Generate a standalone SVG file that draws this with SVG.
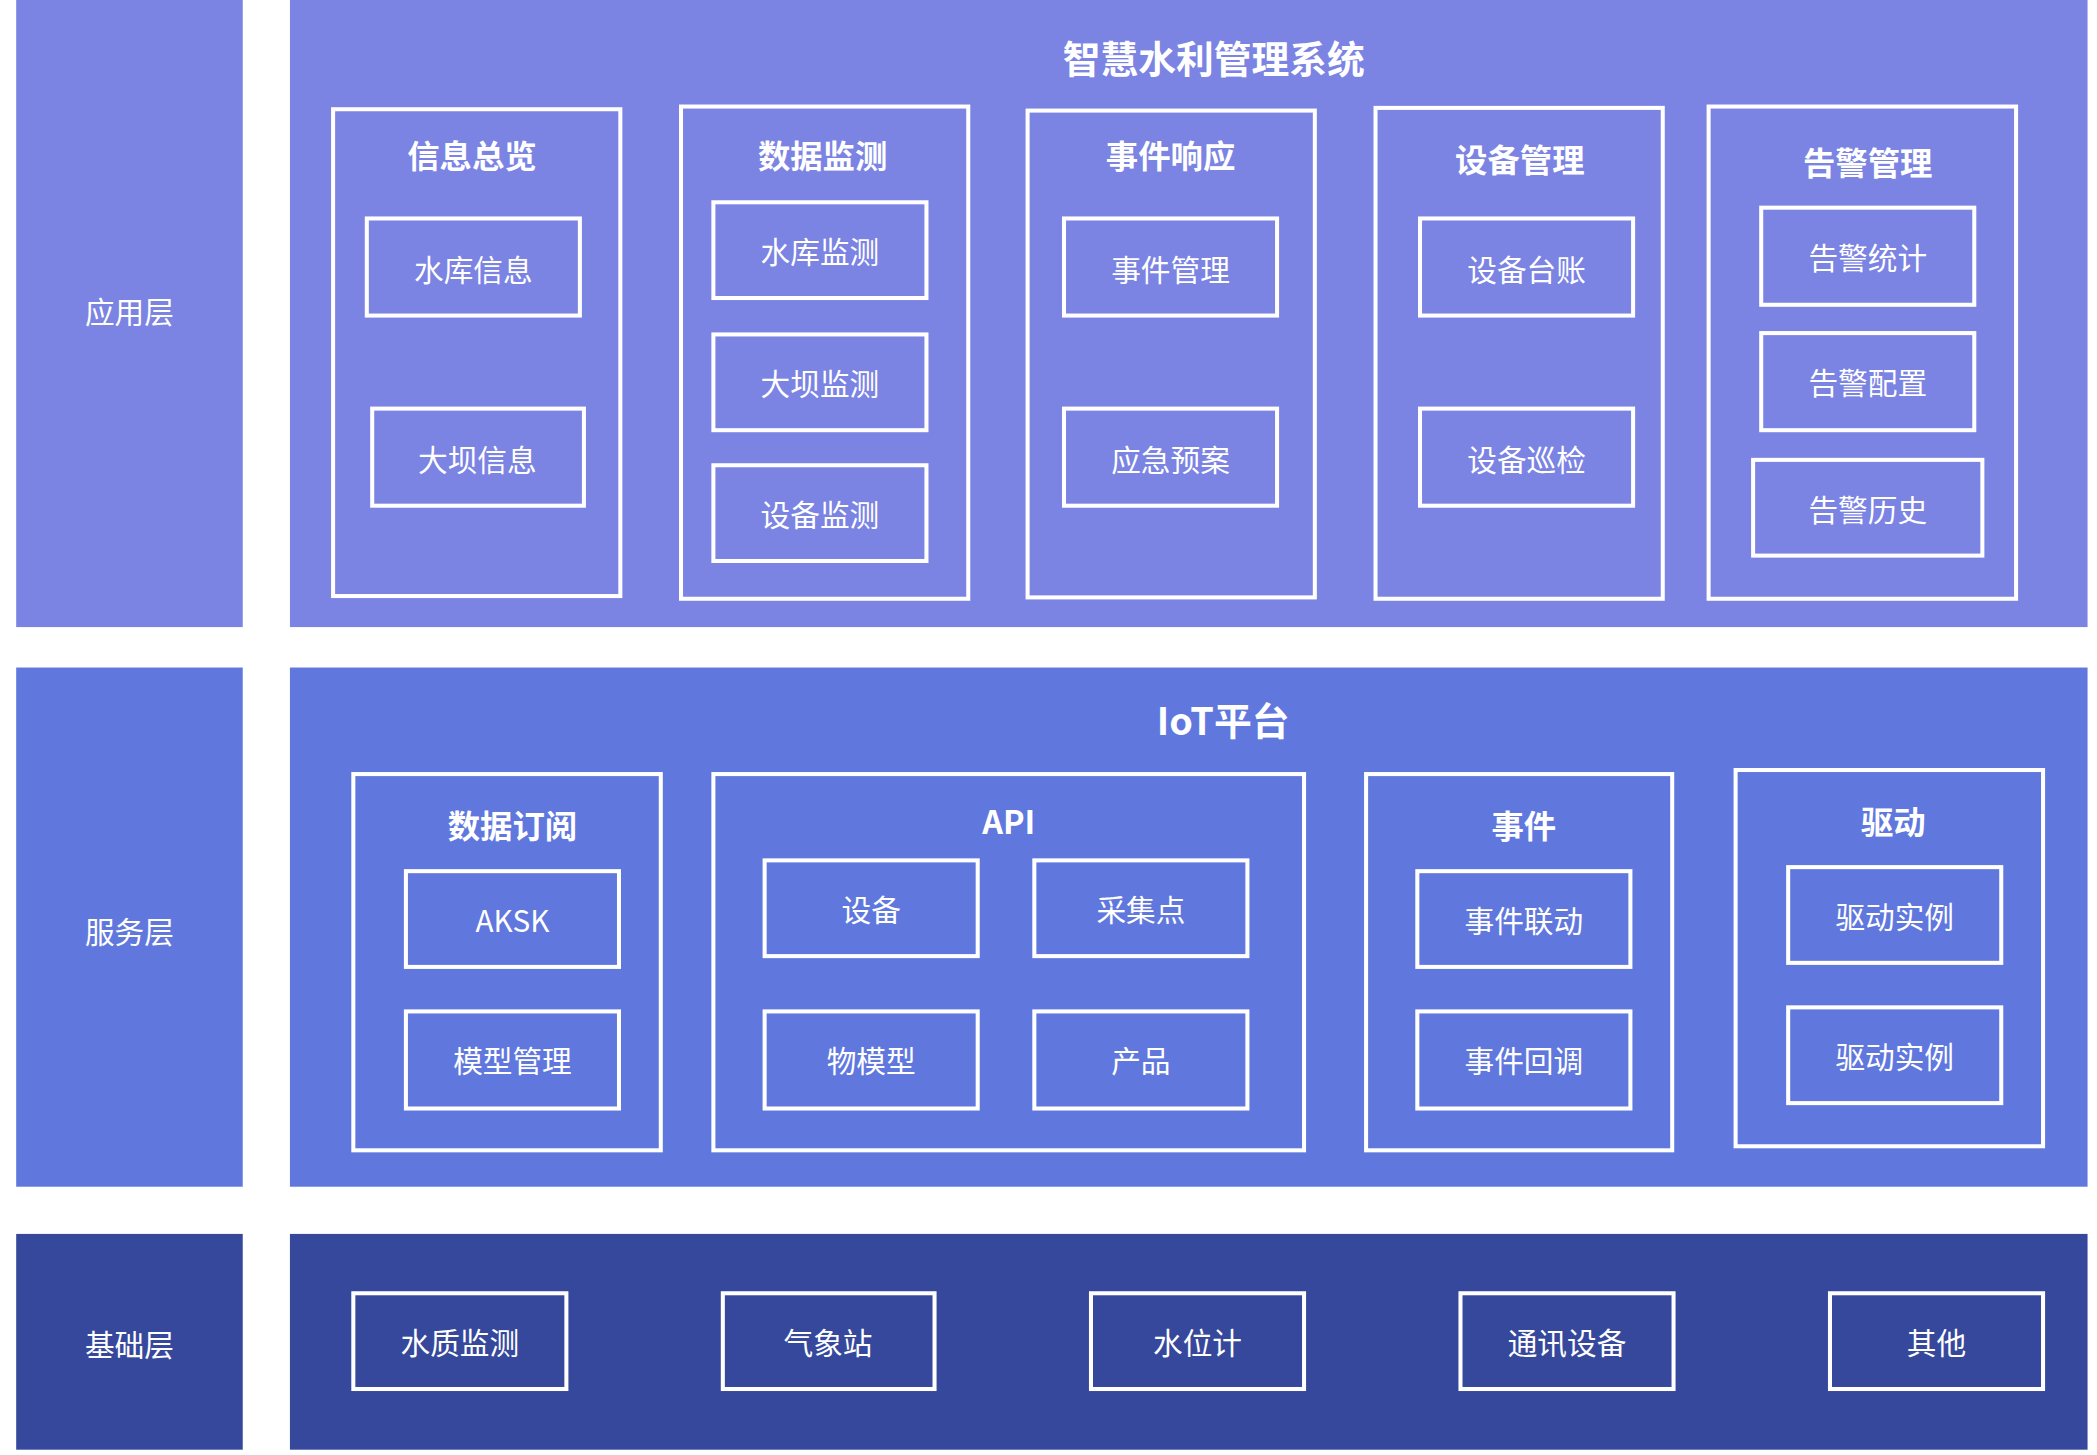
<svg xmlns="http://www.w3.org/2000/svg" width="2097" height="1455" viewBox="0 0 2097 1455">
<style>
.b{fill:none;stroke:#fff;stroke-width:3}
.t{fill:#fff;font-family:"Noto Sans CJK SC","Noto Sans",sans-serif;font-size:22px;text-anchor:middle;dominant-baseline:central}
.h{fill:#fff;font-family:"Noto Sans CJK SC","Noto Sans",sans-serif;font-size:24px;font-weight:bold;text-anchor:middle;dominant-baseline:central}
.m{fill:#fff;font-family:"Noto Sans CJK SC","Noto Sans",sans-serif;font-size:28px;font-weight:bold;text-anchor:middle;dominant-baseline:central}
</style>
<rect width="2097" height="1455" fill="#fff"/>
<g transform="scale(1.34855)">
<g id="layers">
<rect x="12" y="0" width="168" height="465" fill="#7b83e3"/>
<rect x="215" y="0" width="1333" height="465" fill="#7b83e3"/>
<rect x="12" y="495" width="168" height="385" fill="#6078de"/>
<rect x="215" y="495" width="1333" height="385" fill="#6078de"/>
<rect x="12" y="915" width="168" height="160" fill="#36489c"/>
<rect x="215" y="915" width="1333" height="160" fill="#36489c"/>
<text class="t" x="96" y="230">应用层</text>
<text class="t" x="96" y="690">服务层</text>
<text class="t" x="96" y="996">基础层</text>
<text class="m" x="900" y="42">智慧水利管理系统</text>
<text class="m" x="907" y="533">IoT平台</text>
</g>
<g id="g1"><rect class="b" x="247" y="81" width="213" height="361"/><text class="h" x="350" y="114">信息总览</text>
<rect class="b" x="272" y="162" width="158" height="72"/><text class="t" x="351" y="199">水库信息</text>
<rect class="b" x="276" y="303" width="157" height="72"/><text class="t" x="354" y="340">大坝信息</text></g>
<g id="g2"><rect class="b" x="505" y="79" width="213" height="365"/><text class="h" x="610" y="114">数据监测</text>
<rect class="b" x="529" y="150" width="158" height="71"/><text class="t" x="608" y="186">水库监测</text>
<rect class="b" x="529" y="248" width="158" height="71"/><text class="t" x="608" y="284">大坝监测</text>
<rect class="b" x="529" y="345" width="158" height="71"/><text class="t" x="608" y="381">设备监测</text></g>
<g id="g3"><rect class="b" x="762" y="82" width="213" height="361"/><text class="h" x="868" y="114">事件响应</text>
<rect class="b" x="789" y="162" width="158" height="72"/><text class="t" x="868" y="199">事件管理</text>
<rect class="b" x="789" y="303" width="158" height="72"/><text class="t" x="868" y="340">应急预案</text></g>
<g id="g4"><rect class="b" x="1020" y="80" width="213" height="364"/><text class="h" x="1127" y="117">设备管理</text>
<rect class="b" x="1053" y="162" width="158" height="72"/><text class="t" x="1132" y="199">设备台账</text>
<rect class="b" x="1053" y="303" width="158" height="72"/><text class="t" x="1132" y="340">设备巡检</text></g>
<g id="g5"><rect class="b" x="1267" y="79" width="228" height="365"/><text class="h" x="1385" y="119">告警管理</text>
<rect class="b" x="1306" y="154" width="158" height="72"/><text class="t" x="1385" y="190">告警统计</text>
<rect class="b" x="1306" y="247" width="158" height="72"/><text class="t" x="1385" y="283">告警配置</text>
<rect class="b" x="1300" y="341" width="170" height="71"/><text class="t" x="1385" y="377">告警历史</text></g>
<g id="s1"><rect class="b" x="262" y="574" width="228" height="279"/><text class="h" x="380" y="611">数据订阅</text>
<rect class="b" x="301" y="646" width="158" height="71"/><text class="t" x="380" y="682">AKSK</text>
<rect class="b" x="301" y="750" width="158" height="72"/><text class="t" x="380" y="786">模型管理</text></g>
<g id="s2"><rect class="b" x="529" y="574" width="438" height="279"/><text class="h" x="748" y="608">API</text>
<rect class="b" x="567" y="638" width="158" height="71"/><text class="t" x="646" y="674">设备</text>
<rect class="b" x="767" y="638" width="158" height="71"/><text class="t" x="846" y="674">采集点</text>
<rect class="b" x="567" y="750" width="158" height="72"/><text class="t" x="646" y="786">物模型</text>
<rect class="b" x="767" y="750" width="158" height="72"/><text class="t" x="846" y="786">产品</text></g>
<g id="s3"><rect class="b" x="1013" y="574" width="227" height="279"/><text class="h" x="1130" y="611">事件</text>
<rect class="b" x="1051" y="646" width="158" height="71"/><text class="t" x="1130" y="682">事件联动</text>
<rect class="b" x="1051" y="750" width="158" height="72"/><text class="t" x="1130" y="786">事件回调</text></g>
<g id="s4"><rect class="b" x="1287" y="571" width="228" height="279"/><text class="h" x="1404" y="608">驱动</text>
<rect class="b" x="1326" y="643" width="158" height="71"/><text class="t" x="1405" y="679">驱动实例</text>
<rect class="b" x="1326" y="747" width="158" height="71"/><text class="t" x="1405" y="783">驱动实例</text></g>
<g id="b1"><rect class="b" x="262" y="959" width="158" height="71"/><text class="t" x="341" y="995">水质监测</text></g>
<g id="b2"><rect class="b" x="536" y="959" width="157" height="71"/><text class="t" x="614" y="995">气象站</text></g>
<g id="b3"><rect class="b" x="809" y="959" width="158" height="71"/><text class="t" x="888" y="995">水位计</text></g>
<g id="b4"><rect class="b" x="1083" y="959" width="158" height="71"/><text class="t" x="1162" y="995">通讯设备</text></g>
<g id="b5"><rect class="b" x="1357" y="959" width="158" height="71"/><text class="t" x="1436" y="995">其他</text></g>
<g id="connectors"/>
</g>
</svg>
